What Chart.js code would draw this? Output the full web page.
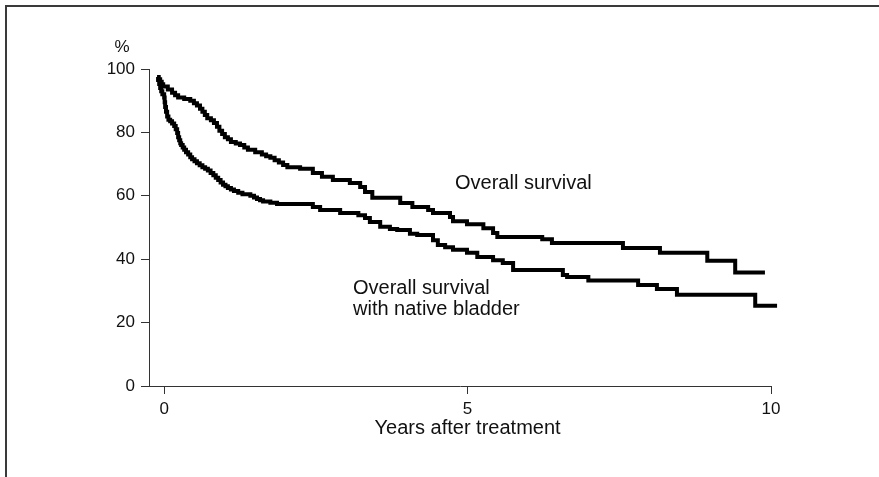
<!DOCTYPE html>
<html>
<head>
<meta charset="utf-8">
<title>Overall survival</title>
<script src="https://cdn.jsdelivr.net/npm/chart.js@4.4.1/dist/chart.umd.min.js"></script>
<style>
  html, body { margin: 0; padding: 0; background: #fff; }
  #wrap { position: relative; width: 879px; height: 477px; overflow: hidden; }
  #frame { position: absolute; left: 5px; top: 5px; right: 0; bottom: 0;
           border-top: 2px solid #3a3a3a; border-left: 2px solid #3a3a3a; }
  #survival { position: absolute; left: 0; top: 0; }
</style>
</head>
<body>
<div id="wrap">
  <div id="frame"></div>
  <canvas id="survival" width="879" height="477"></canvas>
</div>
<script>
'use strict';
// survival curves (years after treatment, % alive)
var overallYears = [-0.115, -0.09, -0.066, -0.04, -0.016, 0.06, 0.13, 0.18, 0.23, 0.33, 0.43, 0.49, 0.54, 0.59,
    0.63, 0.67, 0.71, 0.77, 0.82, 0.87, 0.91, 0.955, 1.0, 1.05, 1.1, 1.18, 1.25, 1.32, 1.38, 1.5, 1.61, 1.68,
    1.75, 1.82, 1.89, 1.96, 2.03, 2.24, 2.45, 2.6, 2.78, 3.06, 3.23, 3.31, 3.43, 3.89, 4.09, 4.35, 4.43, 4.71,
    4.76, 4.99, 5.26, 5.42, 5.49, 6.23, 6.39, 7.56, 8.17, 8.95, 9.41, 9.9];
var overallPct = [97.5, 96.8, 96, 95.2, 94.5, 93.5, 92.5, 91.7, 91, 90.5, 90, 89.2, 88.5, 87.5,
    86.5, 85.5, 84.5, 83.8, 83, 81.8, 80.5, 79.5, 78.5, 77.8, 77, 76.5, 76, 75.2, 74.5, 73.7, 73, 72.5,
    72, 71.2, 70.5, 69.7, 69, 68.5, 67.2, 66, 65, 64, 62.8, 61.2, 59.4, 57.7, 56.5, 55.5, 54.6, 53.3,
    52, 51, 49.8, 48.3, 47, 46.3, 45.1, 43.5, 42, 39.5, 35.8, 35.8];

var bladderYears = [-0.115, -0.1, -0.082, -0.066, -0.049, -0.03, 0.0, 0.008, 0.016, 0.03, 0.049, 0.07, 0.099,
    0.13, 0.165, 0.19, 0.214, 0.23, 0.247, 0.265, 0.28, 0.305, 0.33, 0.36, 0.395, 0.43, 0.46, 0.5, 0.54,
    0.585, 0.63, 0.675, 0.72, 0.765, 0.81, 0.85, 0.89, 0.93, 0.97, 1.01, 1.05, 1.1, 1.15, 1.22, 1.29, 1.42,
    1.48, 1.53, 1.58, 1.63, 1.75, 1.86, 2.45, 2.57, 2.9, 3.2, 3.31, 3.39, 3.56, 3.72, 3.84, 4.05, 4.17, 4.43,
    4.51, 4.63, 4.76, 4.99, 5.16, 5.42, 5.58, 5.75, 6.57, 6.64, 6.99, 7.81, 8.12, 8.45, 9.74, 10.1];
var bladderPct = [97.5, 96.5, 95.3, 94, 93, 92, 91, 89.5, 88, 86.5, 85, 84, 83.5,
    82.8, 82, 81, 79.8, 78.5, 77.5, 76.6, 76, 75.2, 74.5, 73.7, 73, 72.2, 71.5, 70.9, 70.3,
    69.6, 69, 68.5, 68, 67.2, 66.5, 65.7, 65, 64.2, 63.5, 63, 62.5, 62, 61.5, 61, 60.5, 60,
    59.5, 59, 58.6, 58.2, 57.8, 57.4, 56.5, 55.5, 54.6, 53.9, 53, 51.7, 50.2, 49.5, 49.2, 48, 47.6, 46,
    44.5, 43.8, 43, 42, 40.7, 39.7, 38.8, 36.6, 35, 34.4, 33.3, 31.9, 30.6, 28.8, 25.3, 25.3];

var xTicks = [0, 5, 10];
var yTicks = [0, 20, 40, 60, 80, 100];

var textFont = '"Liberation Sans", Arial, sans-serif';
var axisColor = '#333';

function toPoints(xs, ys) {
    var pts = [];
    for (var i = 0; i < xs.length; i++) {
        pts.push({ x: xs[i], y: ys[i] });
    }
    return pts;
}

function curve(label, xs, ys) {
    return {
        label: label,
        data: toPoints(xs, ys),
        stepped: true,
        borderColor: '#000',
        borderWidth: 4,
        borderCapStyle: 'butt',
        pointRadius: 0,
        fill: false,
        clip: false
    };
}

// "%" above the y axis, curve labels and the x axis title
var labelsPlugin = {
    id: 'curveLabels',
    afterDraw: function (chart) {
        var ctx = chart.ctx;
        var xs = chart.scales.x;
        ctx.save();
        ctx.fillStyle = '#111';
        ctx.textBaseline = 'middle';
        ctx.font = '17px ' + textFont;
        ctx.textAlign = 'center';
        ctx.fillText('%', 122, 47);
        ctx.font = '20px ' + textFont;
        ctx.fillText('Years after treatment', xs.getPixelForValue(5), 428);
        ctx.textAlign = 'left';
        ctx.fillText('Overall survival', 455, 183);
        ctx.fillText('Overall survival', 353, 288);
        ctx.fillText('with native bladder', 353, 309);
        ctx.restore();
    }
};

var ctx = document.getElementById('survival').getContext('2d');
var chart = new Chart(ctx, {
    type: 'line',
    data: {
        datasets: [
            curve('Overall survival', overallYears, overallPct),
            curve('Overall survival with native bladder', bladderYears, bladderPct)
        ]
    },
    options: {
        responsive: false,
        animation: false,
        devicePixelRatio: 1,
        layout: { padding: { left: 0, top: 69, right: 108, bottom: 0 } },
        plugins: {
            legend: { display: false },
            tooltip: { enabled: false }
        },
        scales: {
            x: {
                type: 'linear',
                min: -0.25,
                max: 10,
                afterBuildTicks: function (scale) {
                    scale.ticks = xTicks.map(function (v) { return { value: v }; });
                },
                afterFit: function (scale) { scale.height = 91; },
                grid: { drawOnChartArea: false, drawTicks: true, tickLength: 8, color: axisColor, lineWidth: 1 },
                border: { display: true, color: axisColor, width: 1 },
                ticks: { color: '#111', padding: 5, font: { family: textFont, size: 17 }, maxRotation: 0 }
            },
            y: {
                min: 0,
                max: 100,
                afterBuildTicks: function (scale) {
                    scale.ticks = yTicks.map(function (v) { return { value: v }; });
                },
                afterFit: function (scale) { scale.width = 149; },
                grid: { drawOnChartArea: false, drawTicks: true, tickLength: 8, color: axisColor, lineWidth: 1 },
                border: { display: true, color: axisColor, width: 1 },
                ticks: { color: '#111', padding: 6, font: { family: textFont, size: 17 } }
            }
        }
    },
    plugins: [labelsPlugin]
});
</script>
</body>
</html>
